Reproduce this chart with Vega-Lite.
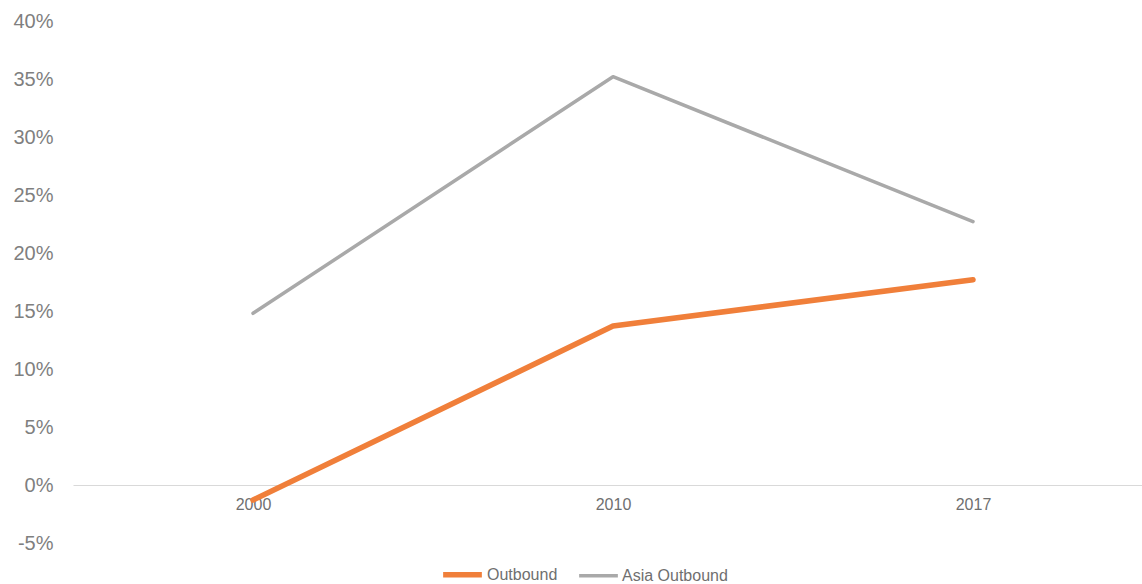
{
  "$schema": "https://vega.github.io/schema/vega-lite/v6.json",
  "width": 1080,
  "height": 522,
  "autosize": {"type": "none"},
  "padding": {"left": 73, "top": 21, "right": 0, "bottom": 41},
  "background": "white",
  "config": {"view": {"stroke": null}, "font": "Liberation Sans"},
  "data": {
    "values": [
      {"year": "2000", "series": "Outbound", "value": -0.013},
      {"year": "2010", "series": "Outbound", "value": 0.137},
      {"year": "2017", "series": "Outbound", "value": 0.177},
      {"year": "2000", "series": "Asia Outbound", "value": 0.148},
      {"year": "2010", "series": "Asia Outbound", "value": 0.352},
      {"year": "2017", "series": "Asia Outbound", "value": 0.227}
    ]
  },
  "mark": {"type": "line", "strokeCap": "round", "strokeJoin": "round", "clip": false},
  "encoding": {
    "x": {
      "field": "year",
      "type": "ordinal",
      "scale": {"type": "point", "padding": 0.5},
      "axis": {
        "title": null,
        "offset": -58,
        "labelAngle": 0,
        "ticks": false,
        "domain": true,
        "domainColor": "#d9d9d9",
        "domainWidth": 1.2,
        "labelFontSize": 16,
        "labelColor": "#6f6f6f",
        "labelPadding": 11
      }
    },
    "y": {
      "field": "value",
      "type": "quantitative",
      "scale": {"domain": [-0.05, 0.4], "nice": false, "zero": false},
      "axis": {
        "title": null,
        "format": ".0%",
        "labelExpr": "replace(datum.label, '\u2212', '-')",
        "values": [-0.05, 0, 0.05, 0.1, 0.15, 0.2, 0.25, 0.3, 0.35, 0.4],
        "grid": false,
        "domain": false,
        "ticks": false,
        "labelFontSize": 20,
        "labelColor": "#7f7f7f",
        "labelPadding": 20
      }
    },
    "color": {
      "field": "series",
      "type": "nominal",
      "scale": {"domain": ["Outbound", "Asia Outbound"], "range": ["#F07F3A", "#A9A9A9"]},
      "legend": {
        "title": null,
        "orient": "none",
        "legendX": 367,
        "legendY": 531,
        "padding": 0,
        "direction": "horizontal",
        "symbolType": "stroke",
        "symbolSize": 1500,
        "labelFontSize": 16,
        "labelColor": "#6f6f6f",
        "labelOffset": 2,
        "columnPadding": 14
      }
    },
    "strokeWidth": {
      "field": "series",
      "type": "nominal",
      "scale": {"domain": ["Outbound", "Asia Outbound"], "range": [5.5, 3.5]},
      "legend": null
    }
  }
}
